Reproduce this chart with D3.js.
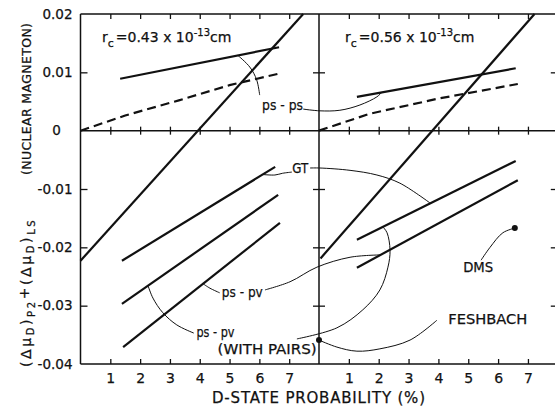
<!DOCTYPE html>
<html><head><meta charset="utf-8">
<script src="https://cdn.jsdelivr.net/npm/d3@7"></script>
<style>
html,body{margin:0;padding:0;background:#fff;}
svg{display:block;}
text{font-family:"DejaVu Sans",sans-serif;fill:#111;stroke:#111;stroke-width:0.25;}
</style></head><body>
<svg id="chart" width="555" height="406"></svg>
<script>
// ---------- data ----------
const xTicks = [1, 2, 3, 4, 5, 6, 7];
const xTickLabels = ["1", "2", "3", "4", "5", "6", "7"];
const yTicks = [0.02, 0.01, 0, -0.01, -0.02, -0.03, -0.04];
const yTickLabels = ["0.02", "0.01", "0", "-0.01", "-0.02", "-0.03", "-0.04"];
const yInnerTicks = [0.01, -0.01, -0.02, -0.03];

// left panel, r_c = 0.43 x 10^-13 cm
const leftSteepX = [0, 7.47];          const leftSteepY = [-0.0223, 0.02];
const leftPsPsX = [1.33, 6.66];        const leftPsPsY = [0.0089, 0.0143];
const leftDashX = [0, 1.5, 3.3, 5.0, 6.76];
const leftDashY = [0, 0.0026, 0.0052, 0.0078, 0.0099];
const leftGtX = [1.39, 6.53];          const leftGtY = [-0.0223, -0.0062];
const leftPairsX = [1.39, 6.63];       const leftPairsY = [-0.0297, -0.0110];
const leftPsPvX = [1.43, 6.69];        const leftPsPvY = [-0.0371, -0.0158];

// right panel, r_c = 0.56 x 10^-13 cm
const rightSteepX = [0.05, 7.22];      const rightSteepY = [-0.0219, 0.02];
const rightPsPsX = [1.27, 6.59];       const rightPsPsY = [0.0058, 0.0107];
const rightDashX = [0, 1.7, 4.0, 6.66];
const rightDashY = [0, 0.0029, 0.0055, 0.0080];
const rightUpperX = [1.27, 6.59];      const rightUpperY = [-0.0187, -0.0052];
const rightLowerX = [1.27, 6.66];      const rightLowerY = [-0.0235, -0.0085];

// experimental points (right panel)
const pointNames = ["DMS", "FESHBACH"];
const pointX = [6.56, 0];
const pointY = [-0.0167, -0.0359];

// ---------- scales ----------
const svg = d3.select("#chart");
const y = d3.scaleLinear().domain([-0.04, 0.02]).range([364, 14]);
const xL = d3.scaleLinear().domain([0, 8]).range([80.5, 319]);
const xR = d3.scaleLinear().domain([0, 8]).range([319, 557.8]);
const ink = "#111";

const zip = (xs, ys) => xs.map((v, i) => [v, ys[i]]);
const lineL = d3.line().x(d => xL(d[0])).y(d => y(d[1]));
const lineR = d3.line().x(d => xR(d[0])).y(d => y(d[1]));
const curveL = d3.line().x(d => xL(d[0])).y(d => y(d[1])).curve(d3.curveCatmullRom.alpha(0.5));
const curveR = d3.line().x(d => xR(d[0])).y(d => y(d[1])).curve(d3.curveCatmullRom.alpha(0.5));

// ---------- frame ----------
const frame = svg.append("g").attr("stroke", ink).attr("stroke-width", 1.5).attr("fill", "none");
frame.append("line").attr("x1", xL(0)).attr("x2", xL(0)).attr("y1", y(0.02)).attr("y2", y(-0.04));
frame.append("line").attr("x1", xR(0)).attr("x2", xR(0)).attr("y1", y(0.02)).attr("y2", y(-0.04));
frame.append("line").attr("x1", xR(8)).attr("x2", xR(8)).attr("y1", y(0.02)).attr("y2", y(-0.04));
[0.02, 0, -0.04].forEach(v => {
  frame.append("line").attr("x1", xL(0)).attr("x2", xR(8)).attr("y1", y(v)).attr("y2", y(v));
});

function styleAxis(g) {
  g.select(".domain").remove();
  g.selectAll(".tick line").attr("stroke", ink).attr("stroke-width", 1.3);
  g.selectAll("text").attr("fill", ink).attr("font-family", "DejaVu Sans, sans-serif");
}

// tick marks
[xL, xR].forEach(xs => {
  svg.append("g").attr("transform", `translate(0,${y(0.02)})`)
    .call(d3.axisBottom(xs).tickValues(xTicks).tickSize(5).tickFormat("")).call(styleAxis);
  svg.append("g").attr("transform", `translate(0,${y(0) - 4})`)
    .call(d3.axisBottom(xs).tickValues(xTicks).tickSize(8).tickFormat("")).call(styleAxis);
  svg.append("g").attr("transform", `translate(0,${y(-0.04)})`)
    .call(d3.axisTop(xs).tickValues(xTicks).tickSize(5).tickFormat("")).call(styleAxis);
  svg.append("g").attr("transform", `translate(0,${y(-0.04)})`)
    .call(d3.axisBottom(xs).tickValues(xTicks).tickSize(0).tickPadding(9)
      .tickFormat((d, i) => xTickLabels[i]))
    .call(styleAxis)
    .selectAll("text").attr("font-size", 14);
});
svg.append("g").attr("transform", `translate(${xL(0)},0)`)
  .call(d3.axisRight(y).tickValues(yInnerTicks).tickSize(7).tickFormat("")).call(styleAxis);
svg.append("g").attr("transform", `translate(${xR(0) - 6},0)`)
  .call(d3.axisRight(y).tickValues(yInnerTicks).tickSize(12).tickFormat("")).call(styleAxis);
svg.append("g").attr("transform", `translate(${xR(8)},0)`)
  .call(d3.axisLeft(y).tickValues(yInnerTicks).tickSize(7).tickFormat("")).call(styleAxis);
const yLab = svg.append("g").attr("transform", `translate(${xL(0)},0)`)
  .call(d3.axisLeft(y).tickValues(yTicks).tickSize(0).tickPadding(8)
    .tickFormat((d, i) => yTickLabels[i]))
  .call(styleAxis);
yLab.selectAll("text").attr("font-size", 13.5)
  .filter(d => d === 0).attr("text-anchor", "middle").attr("x", -24);

// ---------- data lines ----------
const marks = svg.append("g").attr("fill", "none").attr("stroke", ink).attr("stroke-width", 2.2);
[[leftSteepX, leftSteepY], [leftPsPsX, leftPsPsY], [leftGtX, leftGtY],
 [leftPairsX, leftPairsY], [leftPsPvX, leftPsPvY]].forEach(([xs, ys]) =>
  marks.append("path").attr("d", lineL(zip(xs, ys))));
marks.append("path").attr("d", lineL(zip(leftDashX, leftDashY))).attr("stroke-dasharray", "9,5");
[[rightSteepX, rightSteepY], [rightPsPsX, rightPsPsY], [rightUpperX, rightUpperY],
 [rightLowerX, rightLowerY]].forEach(([xs, ys]) =>
  marks.append("path").attr("d", lineR(zip(xs, ys))));
marks.append("path").attr("d", lineR(zip(rightDashX, rightDashY))).attr("stroke-dasharray", "9,5");

svg.append("g").selectAll("circle").data(pointX).join("circle")
  .attr("cx", d => xR(d)).attr("cy", (d, i) => y(pointY[i])).attr("r", 3).attr("fill", ink);

// ---------- leader curves (annotation geometry, data units) ----------
const leadersL = [
  [[6.01, 0.0061], [5.91, 0.0087], [5.68, 0.0109], [5.28, 0.0129]],
  [[7.09, -0.0071], [6.78, -0.0073], [6.52, -0.0076], [6.08, -0.0075]],
  [[4.10, -0.0262], [4.34, -0.0270], [4.67, -0.0278]],
  [[2.26, -0.0265], [2.43, -0.0287], [2.76, -0.0312], [3.23, -0.0333], [3.80, -0.0347]]
];
const leadersR = [
  [[-0.53, 0.0037], [0.03, 0.0034], [0.70, 0.0035], [1.37, 0.0044], [1.94, 0.0058], [2.11, 0.0066]],
  [[-0.30, -0.0064], [0.03, -0.0064], [1.04, -0.0068], [1.94, -0.0076], [2.71, -0.0090], [3.72, -0.0124]],
  [[-1.81, -0.0273], [-0.97, -0.0259], [-0.07, -0.0234], [1.04, -0.0217], [2.04, -0.0213]],
  [[-0.74, -0.0357], [0.60, -0.0338], [1.47, -0.0307], [2.04, -0.0273], [2.31, -0.0234], [2.38, -0.0205], [2.28, -0.0175], [2.14, -0.0165]],
  [[6.56, -0.0167], [6.16, -0.0175], [5.73, -0.0200], [5.43, -0.0222]],
  [[0, -0.0359], [0.6, -0.0371], [1.27, -0.0378], [2.04, -0.0374], [3.05, -0.0359], [3.95, -0.0325]]
];
const lead = svg.append("g").attr("fill", "none").attr("stroke", ink).attr("stroke-width", 1);
leadersL.forEach(p => lead.append("path").attr("d", curveL(p)));
leadersR.forEach(p => lead.append("path").attr("d", curveR(p)));

// ---------- annotations ----------
function label(xs, xv, yv, txt, size, len) {
  const t = svg.append("text").attr("x", xs(xv)).attr("y", y(yv))
    .attr("font-size", size).text(txt);
  if (len) t.attr("textLength", len).attr("lengthAdjust", "spacingAndGlyphs");
  return t;
}
label(xL, 6.09, 0.0036, "ps - ps", 14, 41);
label(xL, 7.10, -0.0073, "GT", 14, 16);
label(xL, 4.74, -0.0285, "ps - pv", 14, 41);
label(xL, 3.89, -0.0354, "ps - pv", 14, 38);
label(xL, 4.60, -0.0382, "(WITH  PAIRS)", 14, 99);
label(xR, 4.83, -0.0243, pointNames[0], 14, 30);
label(xR, 4.33, -0.0331, pointNames[1], 14, 79);

function rcLabel(xs, xv, val) {
  const t = svg.append("text").attr("x", xs(xv)).attr("y", y(0.0152)).attr("font-size", 14);
  t.append("tspan").text("r");
  t.append("tspan").attr("font-size", 11).attr("dy", 5).text("c");
  t.append("tspan").attr("dy", -5).attr("dx", 2).text("=" + val + " x 10");
  t.append("tspan").attr("font-size", 10).attr("dy", -6).text("-13");
  t.append("tspan").attr("dy", 6).text("cm");
}
rcLabel(xL, 0.72, "0.43");
rcLabel(xR, 0.87, "0.56");

// axis titles
svg.append("text").attr("x", 212).attr("y", 403).attr("font-size", 15)
  .attr("textLength", 213).attr("lengthAdjust", "spacing").text("D-STATE PROBABILITY (%)");

const yt = svg.append("g").attr("transform", "translate(31,367) rotate(-90)");
const f = yt.append("text").attr("x", 0).attr("y", 0).attr("font-size", 14)
  .attr("letter-spacing", 2.6);
f.append("tspan").text("(Δμ");
f.append("tspan").attr("font-size", 10).attr("dy", 3).text("D");
f.append("tspan").attr("dy", -3).text(")");
f.append("tspan").attr("font-size", 10).attr("dy", 4).text("P2");
f.append("tspan").attr("dy", -6).text("+");
f.append("tspan").attr("dy", 2).text("(Δμ");
f.append("tspan").attr("font-size", 10).attr("dy", 3).text("D");
f.append("tspan").attr("dy", -3).text(")");
f.append("tspan").attr("font-size", 10).attr("dy", 4).text("LS");
yt.append("text").attr("x", 192).attr("y", 0).attr("font-size", 12.5)
  .attr("font-family", "Liberation Sans, Arial, sans-serif")
  .attr("textLength", 152).attr("lengthAdjust", "spacing").text("(NUCLEAR MAGNETON)");
</script>
</body></html>
